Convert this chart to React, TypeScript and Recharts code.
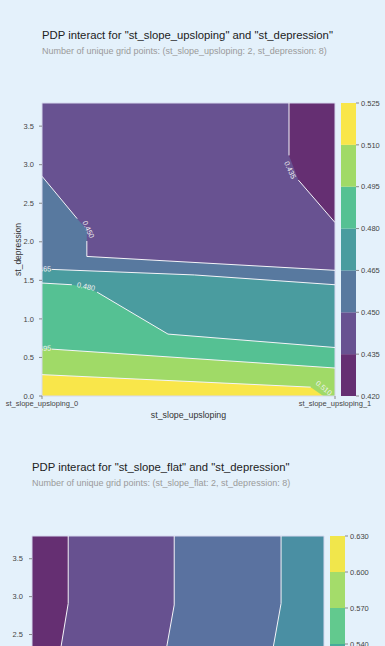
import {
  Area,
  ComposedChart,
  Line,
  ReferenceArea,
  Scatter,
  XAxis,
  YAxis,
} from "recharts";

type Pt = { x: number; y: number };
type ContourLabel = { x: number; y: number; text: string; angle: number };
type Band = { lo: number; hi: number; color: string };

// ---- chart 1: st_slope_upsloping x st_depression ----
const upslopeTicksY = [0, 0.5, 1, 1.5, 2, 2.5, 3, 3.5];
const upslopeTicksX = [0, 1];
const upslopeTickNames = ["st_slope_upsloping_0", "st_slope_upsloping_1"];

// contour vertices (x = st_slope_upsloping, y = st_depression)
const upC435: Pt[] = [
  { x: 0.843, y: 3.8 },
  { x: 0.843, y: 3.12 },
  { x: 0.875, y: 2.8 },
  { x: 1, y: 2.25 },
];
const upC450: Pt[] = [
  { x: 0, y: 2.85 },
  { x: 0.12, y: 2.3 },
  { x: 0.153, y: 2.16 },
  { x: 0.153, y: 1.81 },
  { x: 1, y: 1.63 },
];
const upC465: Pt[] = [
  { x: 0, y: 1.647 },
  { x: 0.52, y: 1.57 },
  { x: 1, y: 1.443 },
];
const upC480: Pt[] = [
  { x: 0, y: 1.465 },
  { x: 0.102, y: 1.443 },
  { x: 0.15, y: 1.41 },
  { x: 0.188, y: 1.347 },
  { x: 0.43, y: 0.803 },
  { x: 1, y: 0.629 },
];
const upC495: Pt[] = [
  { x: 0, y: 0.616 },
  { x: 1, y: 0.363 },
];
const upC510: Pt[] = [
  { x: 0, y: 0.277 },
  { x: 0.917, y: 0.115 },
  { x: 0.96, y: 0 },
  { x: 1, y: 0 },
];

// visible pieces of the white contour lines (gaps where the labels sit)
const upStrokes: Pt[][] = [
  [{ x: 0.843, y: 3.8 }, { x: 0.843, y: 3.12 }],
  [{ x: 0.875, y: 2.8 }, { x: 1, y: 2.25 }],
  [{ x: 0, y: 2.85 }, { x: 0.12, y: 2.3 }],
  [{ x: 0.153, y: 2.01 }, { x: 0.153, y: 1.81 }, { x: 1, y: 1.63 }],
  [{ x: 0.033, y: 1.642 }, { x: 0.52, y: 1.57 }, { x: 1, y: 1.443 }],
  [{ x: 0, y: 1.465 }, { x: 0.102, y: 1.443 }],
  [{ x: 0.188, y: 1.347 }, { x: 0.43, y: 0.803 }, { x: 1, y: 0.629 }],
  [{ x: 0.033, y: 0.608 }, { x: 1, y: 0.363 }],
  [{ x: 0, y: 0.277 }, { x: 0.917, y: 0.115 }],
];

const upLabels: ContourLabel[] = [
  { x: 0.847, y: 2.93, text: "0.435", angle: 65 },
  { x: 0.158, y: 2.16, text: "0.450", angle: 65 },
  { x: 0.0, y: 1.645, text: "0.465", angle: -3 },
  { x: 0.15, y: 1.42, text: "0.480", angle: 12 },
  { x: 0.0, y: 0.616, text: "0.495", angle: -3 },
  { x: 0.962, y: 0.104, text: "0.510", angle: 40 },
];

const upBands: Band[] = [
  { lo: 0.42, hi: 0.435, color: "#652f72" },
  { lo: 0.435, hi: 0.45, color: "#685291" },
  { lo: 0.45, hi: 0.465, color: "#58799f" },
  { lo: 0.465, hi: 0.48, color: "#4a9c9f" },
  { lo: 0.48, hi: 0.495, color: "#55c193" },
  { lo: 0.495, hi: 0.51, color: "#a0da67" },
  { lo: 0.51, hi: 0.525, color: "#f9e64a" },
];
const upBarTicks = [0.42, 0.435, 0.45, 0.465, 0.48, 0.495, 0.51, 0.525];

// ---- chart 2: st_slope_flat x st_depression ----
const flatTicksY = [0, 0.5, 1, 1.5, 2, 2.5, 3, 3.5];
const flatC1: Pt[] = [
  { x: 0.124, y: 3.8 },
  { x: 0.124, y: 2.91 },
  { x: 0.099, y: 2.33 },
  { x: 0.094, y: 2.2 },
];
const flatC2: Pt[] = [
  { x: 0.487, y: 3.8 },
  { x: 0.487, y: 2.89 },
  { x: 0.461, y: 2.33 },
  { x: 0.455, y: 2.2 },
];
const flatC3: Pt[] = [
  { x: 0.853, y: 3.8 },
  { x: 0.853, y: 2.91 },
  { x: 0.826, y: 2.33 },
  { x: 0.82, y: 2.2 },
];
const flatBands: Band[] = [
  { lo: 0.39, hi: 0.42, color: "#652f72" },
  { lo: 0.42, hi: 0.45, color: "#675190" },
  { lo: 0.45, hi: 0.48, color: "#5a72a0" },
  { lo: 0.48, hi: 0.51, color: "#4a8fa3" },
  { lo: 0.51, hi: 0.54, color: "#46ab9a" },
  { lo: 0.54, hi: 0.57, color: "#62c98e" },
  { lo: 0.57, hi: 0.6, color: "#a4dc6a" },
  { lo: 0.6, hi: 0.63, color: "#f1e64b" },
];
const flatBarTicks = [0.39, 0.42, 0.45, 0.48, 0.51, 0.54, 0.57, 0.6, 0.63];

const BG = "#e4f1fb";
const FONT = '"Liberation Sans", Arial, Helvetica, sans-serif';
const TICK = { fontSize: 7.5, fill: "#444", fontFamily: FONT };
const LINE = "#f4f4f8";

function ContourText(props: any) {
  const { cx, cy, payload } = props;
  return (
    <text
      x={cx}
      y={cy}
      transform={`rotate(${payload.angle}, ${cx}, ${cy})`}
      textAnchor="middle"
      dominantBaseline="central"
      fontSize={7.3}
      fontFamily={FONT}
      fill="#f2f2f2"
    >
      {payload.text}
    </text>
  );
}

function ColorBar({ bands, ticks, height }: { bands: Band[]; ticks: number[]; height: number }) {
  const lo = bands[0].lo;
  const hi = bands[bands.length - 1].hi;
  return (
    <ComposedChart
      width={60}
      height={height + 16}
      data={bands}
      margin={{ top: 8, right: 0, left: 0, bottom: 8 }}
    >
      <XAxis type="number" dataKey="lo" domain={[0, 1]} hide />
      <YAxis
        type="number"
        orientation="right"
        domain={[lo, hi]}
        ticks={ticks}
        interval={0}
        allowDataOverflow
        width={45}
        axisLine={false}
        tickSize={3}
        tickMargin={2}
        tickLine={{ stroke: "#888" }}
        tick={TICK}
        tickFormatter={(v: number) => v.toFixed(3)}
      />
      {bands.map((b) => (
        <ReferenceArea
          key={b.lo}
          x1={0}
          x2={1}
          y1={b.lo}
          y2={b.hi}
          fill={b.color}
          fillOpacity={1}
          stroke="none"
          ifOverflow="hidden"
        />
      ))}
    </ComposedChart>
  );
}

export default function App() {
  return (
    <div
      style={{
        position: "relative",
        width: 385,
        height: 646,
        overflow: "hidden",
        background: BG,
        fontFamily: FONT,
      }}
    >
      <style>{`body{margin:0;background:${BG};}`}</style>

      {/* chart 1 */}
      <div style={{ position: "absolute", left: 42, top: 30, fontSize: 11.3, lineHeight: 1, color: "#222", whiteSpace: "nowrap" }}>
        PDP interact for "st_slope_upsloping" and "st_depression"
      </div>
      <div style={{ position: "absolute", left: 42, top: 46.5, fontSize: 9, lineHeight: 1, color: "#9a9a9a", whiteSpace: "nowrap" }}>
        Number of unique grid points: (st_slope_upsloping: 2, st_depression: 8)
      </div>

      <div style={{ position: "absolute", left: 0, top: 95 }}>
        <ComposedChart
          width={385}
          height={331}
          margin={{ top: 8, right: 50, left: 12, bottom: 0 }}
        >
          <XAxis
            type="number"
            dataKey="x"
            domain={[0, 1]}
            ticks={upslopeTicksX}
            interval={0}
            allowDataOverflow
            axisLine={false}
            tickSize={3}
            tickMargin={2}
            tickLine={{ stroke: "#888" }}
            tick={TICK}
            tickFormatter={(v: number) => upslopeTickNames[v]}
            height={30}
            label={{
              value: "st_slope_upsloping",
              position: "insideBottom",
              offset: 8,
              style: { fontSize: 8.8, fill: "#333", fontFamily: FONT },
            }}
          />
          <YAxis
            type="number"
            dataKey="y"
            domain={[0, 3.8]}
            ticks={upslopeTicksY}
            interval={0}
            allowDataOverflow
            width={30}
            axisLine={false}
            tickSize={3}
            tickMargin={5}
            tickLine={{ stroke: "#888" }}
            tick={TICK}
            tickFormatter={(v: number) => v.toFixed(1)}
            label={{
              value: "st_depression",
              angle: -90,
              position: "insideLeft",
              offset: 6,
              style: { fontSize: 8.5, fill: "#333", fontFamily: FONT, textAnchor: "middle" },
            }}
          />
          <ReferenceArea x1={0} x2={1} y1={0} y2={3.8} fill={upBands[1].color} fillOpacity={1} stroke="none" />
          <Area data={upC450} dataKey="y" type="linear" fill={upBands[2].color} fillOpacity={1} stroke="none" isAnimationActive={false} />
          <Area data={upC465} dataKey="y" type="linear" fill={upBands[3].color} fillOpacity={1} stroke="none" isAnimationActive={false} />
          <Area data={upC480} dataKey="y" type="linear" fill={upBands[4].color} fillOpacity={1} stroke="none" isAnimationActive={false} />
          <Area data={upC495} dataKey="y" type="linear" fill={upBands[5].color} fillOpacity={1} stroke="none" isAnimationActive={false} />
          <Area data={upC510} dataKey="y" type="linear" fill={upBands[6].color} fillOpacity={1} stroke="none" isAnimationActive={false} />
          <Area data={upC435} dataKey="y" type="linear" baseValue={3.8} fill={upBands[0].color} fillOpacity={1} stroke="none" isAnimationActive={false} />
          {upStrokes.map((seg, i) => (
            <Line
              key={i}
              data={seg}
              dataKey="y"
              type="linear"
              stroke={LINE}
              strokeWidth={1}
              dot={false}
              activeDot={false}
              isAnimationActive={false}
            />
          ))}
          <Scatter data={upLabels} dataKey="y" shape={ContourText} isAnimationActive={false} />
          <ReferenceArea x1={0} x2={1} y1={0} y2={3.8} fill="none" stroke="#d6d8ee" strokeWidth={1} />
        </ComposedChart>
      </div>
      <div style={{ position: "absolute", left: 341, top: 95 }}>
        <ColorBar bands={upBands} ticks={upBarTicks} height={293} />
      </div>

      {/* chart 2 */}
      <div style={{ position: "absolute", left: 32, top: 462, fontSize: 11.3, lineHeight: 1, color: "#222", whiteSpace: "nowrap" }}>
        PDP interact for "st_slope_flat" and "st_depression"
      </div>
      <div style={{ position: "absolute", left: 32, top: 478.5, fontSize: 9, lineHeight: 1, color: "#9a9a9a", whiteSpace: "nowrap" }}>
        Number of unique grid points: (st_slope_flat: 2, st_depression: 8)
      </div>

      <div style={{ position: "absolute", left: 0, top: 528 }}>
        <ComposedChart
          layout="vertical"
          width={385}
          height={326}
          margin={{ top: 8, right: 61, left: 8, bottom: 0 }}
        >
          <XAxis
            type="number"
            dataKey="x"
            domain={[0, 1]}
            ticks={[0, 1]}
            allowDataOverflow
            axisLine={false}
            tickSize={3}
            tickMargin={2}
            tick={TICK}
            tickFormatter={(v: number) => (v === 0 ? "st_slope_flat_0" : "st_slope_flat_1")}
            height={30}
          />
          <YAxis
            type="number"
            dataKey="y"
            domain={[0, 3.8]}
            ticks={flatTicksY}
            interval={0}
            reversed
            allowDataOverflow
            width={24}
            axisLine={false}
            tickSize={3}
            tickMargin={6}
            tickLine={{ stroke: "#888" }}
            tick={TICK}
            tickFormatter={(v: number) => v.toFixed(1)}
          />
          <ReferenceArea x1={0} x2={1} y1={0} y2={3.8} fill={flatBands[0].color} fillOpacity={1} stroke="none" />
          <Area data={flatC1} dataKey="x" type="linear" baseValue={1} fill={flatBands[1].color} fillOpacity={1} stroke="none" isAnimationActive={false} />
          <Area data={flatC2} dataKey="x" type="linear" baseValue={1} fill={flatBands[2].color} fillOpacity={1} stroke="none" isAnimationActive={false} />
          <Area data={flatC3} dataKey="x" type="linear" baseValue={1} fill={flatBands[3].color} fillOpacity={1} stroke="none" isAnimationActive={false} />
          {[flatC1, flatC2, flatC3].map((seg, i) => (
            <Line
              key={i}
              data={seg}
              dataKey="x"
              type="linear"
              stroke={LINE}
              strokeWidth={1}
              dot={false}
              activeDot={false}
              isAnimationActive={false}
            />
          ))}
          <ReferenceArea x1={0} x2={1} y1={0} y2={3.8} fill="none" stroke="#d6d8ee" strokeWidth={1} />
        </ComposedChart>
      </div>
      <div style={{ position: "absolute", left: 330, top: 528 }}>
        <ColorBar bands={flatBands} ticks={flatBarTicks} height={288} />
      </div>
    </div>
  );
}
